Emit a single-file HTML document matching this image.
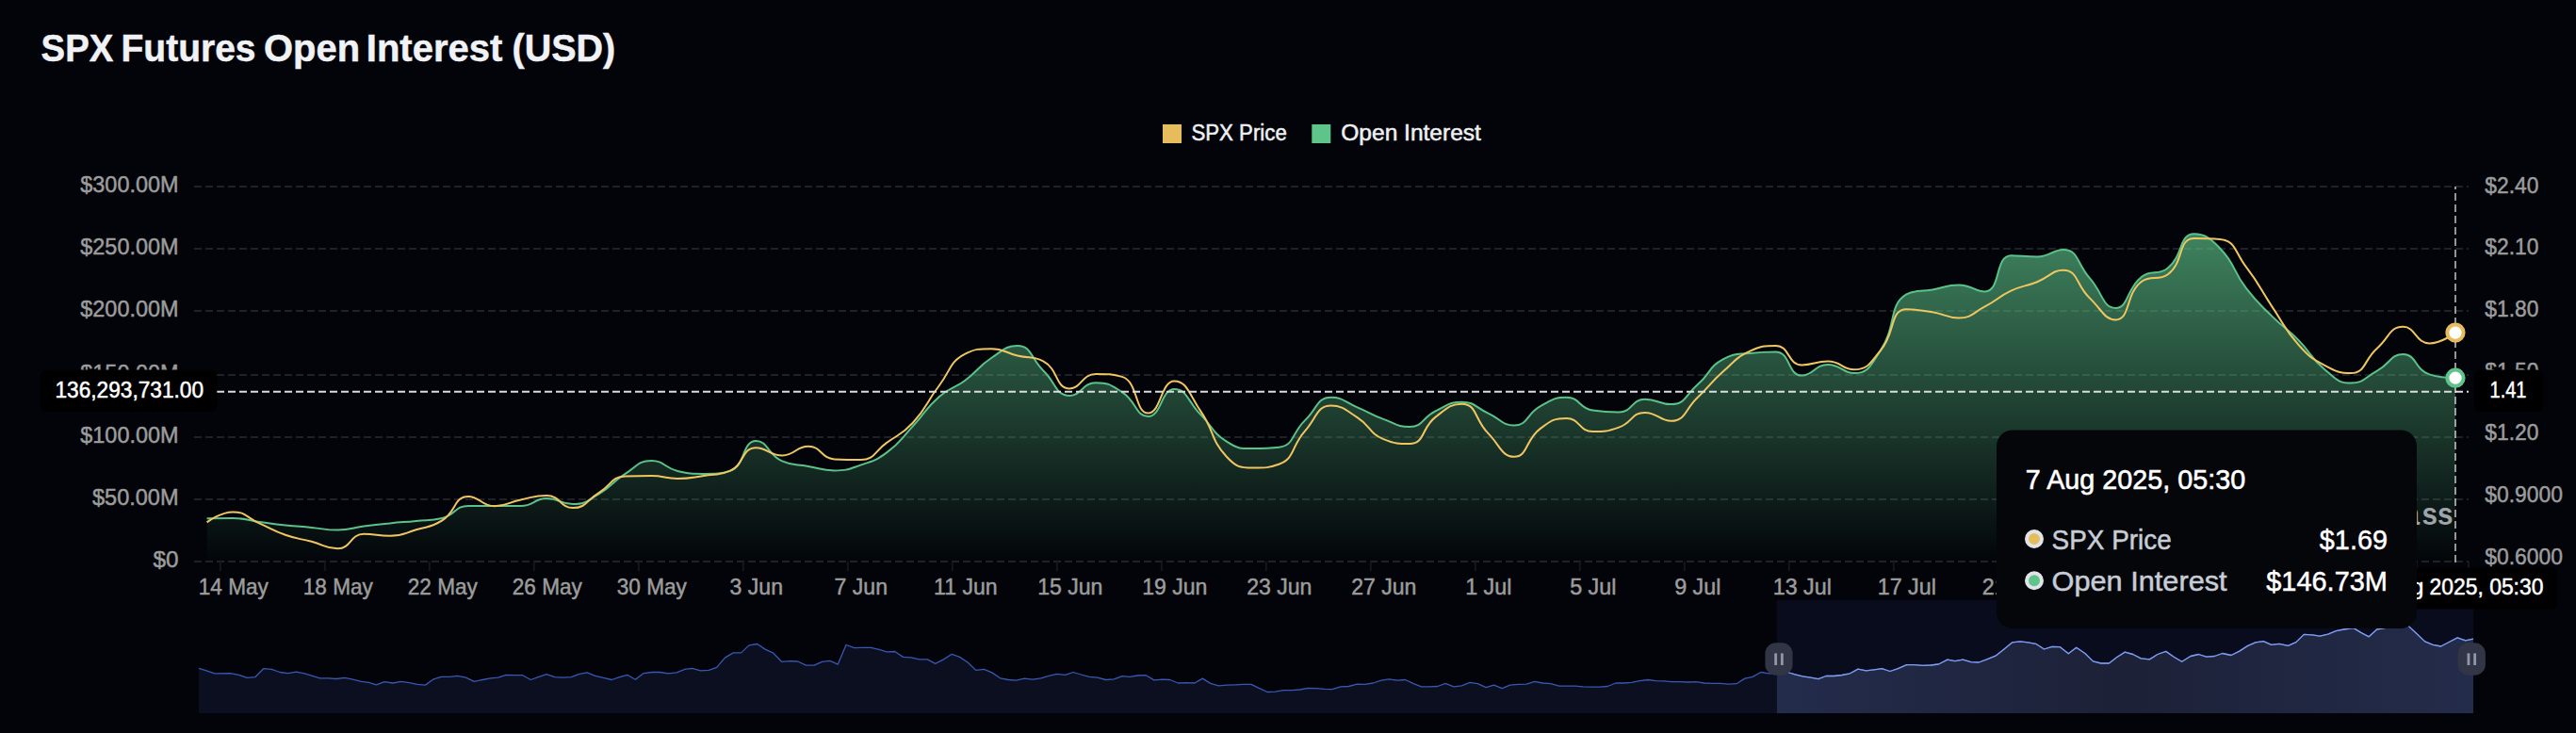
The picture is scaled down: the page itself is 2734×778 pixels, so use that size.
<!DOCTYPE html>
<html lang="en"><head><meta charset="utf-8"><title>SPX Futures Open Interest (USD)</title>
<style>html,body{margin:0;padding:0;background:#020409;}body{width:2734px;height:778px;overflow:hidden;font-family:"Liberation Sans",sans-serif;}svg{display:block}</style>
</head><body>
<svg width="2734" height="778" viewBox="0 0 2734 778" font-family="'Liberation Sans', sans-serif">
<defs>
<linearGradient id="ga" x1="0" y1="0" x2="0" y2="1">
<stop offset="0" stop-color="#5ec48a" stop-opacity="0.66"/>
<stop offset="1" stop-color="#5ec48a" stop-opacity="0.005"/>
</linearGradient>
<linearGradient id="gs" gradientUnits="userSpaceOnUse" x1="1886" y1="0" x2="2625" y2="0">
<stop offset="0" stop-color="#242c4c"/><stop offset="0.5" stop-color="#1c2137"/><stop offset="1" stop-color="#242c4b"/>
</linearGradient>
<clipPath id="selclip"><rect x="1886" y="637" width="739" height="120"/></clipPath>
</defs>
<rect width="2734" height="778" fill="#020409"/>
<text y="64.8" font-size="40.5" font-weight="bold" fill="#f0f2f6" stroke="#f0f2f6" stroke-width="0.5"><tspan x="43.61" textLength="76.67" lengthAdjust="spacingAndGlyphs">SPX</tspan> <tspan x="128.55" textLength="143.00" lengthAdjust="spacingAndGlyphs">Futures</tspan> <tspan x="280.08" textLength="102.00" lengthAdjust="spacingAndGlyphs">Open</tspan> <tspan x="388.81" textLength="144.52" lengthAdjust="spacingAndGlyphs">Interest</tspan> <tspan x="543.50" textLength="109.58" lengthAdjust="spacingAndGlyphs">(USD)</tspan></text>
<rect x="1234" y="132" width="20" height="20" fill="#e6bc5c"/>
<text x="1264.4" y="148.6" font-size="23" fill="#eef0f3" textLength="101.4" lengthAdjust="spacingAndGlyphs" stroke="#eef0f3" stroke-width="0.5">SPX Price</text>
<rect x="1392.3" y="132" width="20" height="20" fill="#5ec48a"/>
<text x="1423.3" y="148.6" font-size="23" fill="#eef0f3" textLength="148.6" lengthAdjust="spacingAndGlyphs" stroke="#eef0f3" stroke-width="0.5">Open Interest</text>
<line x1="206" y1="198.0" x2="2620" y2="198.0" stroke="#1e2126" stroke-width="2" stroke-dasharray="8 4"/>
<line x1="206" y1="264.0" x2="2620" y2="264.0" stroke="#1e2126" stroke-width="2" stroke-dasharray="8 4"/>
<line x1="206" y1="330.0" x2="2620" y2="330.0" stroke="#1e2126" stroke-width="2" stroke-dasharray="8 4"/>
<line x1="206" y1="398.0" x2="2620" y2="398.0" stroke="#1e2126" stroke-width="2" stroke-dasharray="8 4"/>
<line x1="206" y1="464.0" x2="2620" y2="464.0" stroke="#1e2126" stroke-width="2" stroke-dasharray="8 4"/>
<line x1="206" y1="530.0" x2="2620" y2="530.0" stroke="#1e2126" stroke-width="2" stroke-dasharray="8 4"/>
<line x1="206" y1="596.0" x2="2620" y2="596.0" stroke="#1e2126" stroke-width="2" stroke-dasharray="8 4"/>
<text x="85.30000000000001" y="204.4" font-size="24" fill="#9c9c9c" textLength="104.19999999999999" lengthAdjust="spacingAndGlyphs" stroke="#9c9c9c" stroke-width="0.5">$300.00M</text>
<text x="85.30000000000001" y="270.4" font-size="24" fill="#9c9c9c" textLength="104.19999999999999" lengthAdjust="spacingAndGlyphs" stroke="#9c9c9c" stroke-width="0.5">$250.00M</text>
<text x="85.30000000000001" y="336.4" font-size="24" fill="#9c9c9c" textLength="104.19999999999999" lengthAdjust="spacingAndGlyphs" stroke="#9c9c9c" stroke-width="0.5">$200.00M</text>
<text x="85.30000000000001" y="404.4" font-size="24" fill="#9c9c9c" textLength="104.19999999999999" lengthAdjust="spacingAndGlyphs" stroke="#9c9c9c" stroke-width="0.5">$150.00M</text>
<text x="85.30000000000001" y="470.4" font-size="24" fill="#9c9c9c" textLength="104.19999999999999" lengthAdjust="spacingAndGlyphs" stroke="#9c9c9c" stroke-width="0.5">$100.00M</text>
<text x="98.0" y="536.4" font-size="24" fill="#9c9c9c" textLength="91.5" lengthAdjust="spacingAndGlyphs" stroke="#9c9c9c" stroke-width="0.5">$50.00M</text>
<text x="162.5" y="602.4" font-size="24" fill="#9c9c9c" textLength="27.0" lengthAdjust="spacingAndGlyphs" stroke="#9c9c9c" stroke-width="0.5">$0</text>
<text x="2637.3" y="204.5" font-size="24" fill="#9c9c9c" textLength="57" lengthAdjust="spacingAndGlyphs" stroke="#9c9c9c" stroke-width="0.5">$2.40</text>
<text x="2637.3" y="270.2" font-size="24" fill="#9c9c9c" textLength="57" lengthAdjust="spacingAndGlyphs" stroke="#9c9c9c" stroke-width="0.5">$2.10</text>
<text x="2637.3" y="336.0" font-size="24" fill="#9c9c9c" textLength="57" lengthAdjust="spacingAndGlyphs" stroke="#9c9c9c" stroke-width="0.5">$1.80</text>
<text x="2637.3" y="401.7" font-size="24" fill="#9c9c9c" textLength="57" lengthAdjust="spacingAndGlyphs" stroke="#9c9c9c" stroke-width="0.5">$1.50</text>
<text x="2637.3" y="467.4" font-size="24" fill="#9c9c9c" textLength="57" lengthAdjust="spacingAndGlyphs" stroke="#9c9c9c" stroke-width="0.5">$1.20</text>
<text x="2637.3" y="533.2" font-size="24" fill="#9c9c9c" textLength="82.7" lengthAdjust="spacingAndGlyphs" stroke="#9c9c9c" stroke-width="0.5">$0.9000</text>
<text x="2637.3" y="598.9" font-size="24" fill="#9c9c9c" textLength="82.7" lengthAdjust="spacingAndGlyphs" stroke="#9c9c9c" stroke-width="0.5">$0.6000</text>
<line x1="233.8" y1="596" x2="233.8" y2="606" stroke="#15171c" stroke-width="2"/>
<text x="247.8" y="631.2" font-size="24" fill="#9c9c9c" text-anchor="middle" textLength="74.0" lengthAdjust="spacingAndGlyphs" stroke="#9c9c9c" stroke-width="0.5">14 May</text>
<line x1="344.8" y1="596" x2="344.8" y2="606" stroke="#15171c" stroke-width="2"/>
<text x="358.8" y="631.2" font-size="24" fill="#9c9c9c" text-anchor="middle" textLength="74.0" lengthAdjust="spacingAndGlyphs" stroke="#9c9c9c" stroke-width="0.5">18 May</text>
<line x1="455.8" y1="596" x2="455.8" y2="606" stroke="#15171c" stroke-width="2"/>
<text x="469.8" y="631.2" font-size="24" fill="#9c9c9c" text-anchor="middle" textLength="74.0" lengthAdjust="spacingAndGlyphs" stroke="#9c9c9c" stroke-width="0.5">22 May</text>
<line x1="566.8" y1="596" x2="566.8" y2="606" stroke="#15171c" stroke-width="2"/>
<text x="580.8" y="631.2" font-size="24" fill="#9c9c9c" text-anchor="middle" textLength="74.0" lengthAdjust="spacingAndGlyphs" stroke="#9c9c9c" stroke-width="0.5">26 May</text>
<line x1="677.8" y1="596" x2="677.8" y2="606" stroke="#15171c" stroke-width="2"/>
<text x="691.8" y="631.2" font-size="24" fill="#9c9c9c" text-anchor="middle" textLength="74.0" lengthAdjust="spacingAndGlyphs" stroke="#9c9c9c" stroke-width="0.5">30 May</text>
<line x1="788.8" y1="596" x2="788.8" y2="606" stroke="#15171c" stroke-width="2"/>
<text x="802.8" y="631.2" font-size="24" fill="#9c9c9c" text-anchor="middle" textLength="56.4" lengthAdjust="spacingAndGlyphs" stroke="#9c9c9c" stroke-width="0.5">3 Jun</text>
<line x1="899.8" y1="596" x2="899.8" y2="606" stroke="#15171c" stroke-width="2"/>
<text x="913.8" y="631.2" font-size="24" fill="#9c9c9c" text-anchor="middle" textLength="56.4" lengthAdjust="spacingAndGlyphs" stroke="#9c9c9c" stroke-width="0.5">7 Jun</text>
<line x1="1010.8" y1="596" x2="1010.8" y2="606" stroke="#15171c" stroke-width="2"/>
<text x="1024.8" y="631.2" font-size="24" fill="#9c9c9c" text-anchor="middle" textLength="67.5" lengthAdjust="spacingAndGlyphs" stroke="#9c9c9c" stroke-width="0.5">11 Jun</text>
<line x1="1121.8" y1="596" x2="1121.8" y2="606" stroke="#15171c" stroke-width="2"/>
<text x="1135.8" y="631.2" font-size="24" fill="#9c9c9c" text-anchor="middle" textLength="69.2" lengthAdjust="spacingAndGlyphs" stroke="#9c9c9c" stroke-width="0.5">15 Jun</text>
<line x1="1232.8" y1="596" x2="1232.8" y2="606" stroke="#15171c" stroke-width="2"/>
<text x="1246.8" y="631.2" font-size="24" fill="#9c9c9c" text-anchor="middle" textLength="69.2" lengthAdjust="spacingAndGlyphs" stroke="#9c9c9c" stroke-width="0.5">19 Jun</text>
<line x1="1343.8" y1="596" x2="1343.8" y2="606" stroke="#15171c" stroke-width="2"/>
<text x="1357.8" y="631.2" font-size="24" fill="#9c9c9c" text-anchor="middle" textLength="69.2" lengthAdjust="spacingAndGlyphs" stroke="#9c9c9c" stroke-width="0.5">23 Jun</text>
<line x1="1454.8" y1="596" x2="1454.8" y2="606" stroke="#15171c" stroke-width="2"/>
<text x="1468.8" y="631.2" font-size="24" fill="#9c9c9c" text-anchor="middle" textLength="69.2" lengthAdjust="spacingAndGlyphs" stroke="#9c9c9c" stroke-width="0.5">27 Jun</text>
<line x1="1565.8" y1="596" x2="1565.8" y2="606" stroke="#15171c" stroke-width="2"/>
<text x="1579.8" y="631.2" font-size="24" fill="#9c9c9c" text-anchor="middle" textLength="49.3" lengthAdjust="spacingAndGlyphs" stroke="#9c9c9c" stroke-width="0.5">1 Jul</text>
<line x1="1676.8" y1="596" x2="1676.8" y2="606" stroke="#15171c" stroke-width="2"/>
<text x="1690.8" y="631.2" font-size="24" fill="#9c9c9c" text-anchor="middle" textLength="49.3" lengthAdjust="spacingAndGlyphs" stroke="#9c9c9c" stroke-width="0.5">5 Jul</text>
<line x1="1787.8" y1="596" x2="1787.8" y2="606" stroke="#15171c" stroke-width="2"/>
<text x="1801.8" y="631.2" font-size="24" fill="#9c9c9c" text-anchor="middle" textLength="49.3" lengthAdjust="spacingAndGlyphs" stroke="#9c9c9c" stroke-width="0.5">9 Jul</text>
<line x1="1898.8" y1="596" x2="1898.8" y2="606" stroke="#15171c" stroke-width="2"/>
<text x="1912.8" y="631.2" font-size="24" fill="#9c9c9c" text-anchor="middle" textLength="62.2" lengthAdjust="spacingAndGlyphs" stroke="#9c9c9c" stroke-width="0.5">13 Jul</text>
<line x1="2009.8" y1="596" x2="2009.8" y2="606" stroke="#15171c" stroke-width="2"/>
<text x="2023.8" y="631.2" font-size="24" fill="#9c9c9c" text-anchor="middle" textLength="62.2" lengthAdjust="spacingAndGlyphs" stroke="#9c9c9c" stroke-width="0.5">17 Jul</text>
<line x1="2120.8" y1="596" x2="2120.8" y2="606" stroke="#15171c" stroke-width="2"/>
<text x="2134.8" y="631.2" font-size="24" fill="#9c9c9c" text-anchor="middle" textLength="62.2" lengthAdjust="spacingAndGlyphs" stroke="#9c9c9c" stroke-width="0.5">21 Jul</text>
<line x1="2231.8" y1="596" x2="2231.8" y2="606" stroke="#15171c" stroke-width="2"/>
<text x="2245.8" y="631.2" font-size="24" fill="#9c9c9c" text-anchor="middle" textLength="62.2" lengthAdjust="spacingAndGlyphs" stroke="#9c9c9c" stroke-width="0.5">25 Jul</text>
<line x1="2342.8" y1="596" x2="2342.8" y2="606" stroke="#15171c" stroke-width="2"/>
<text x="2356.8" y="631.2" font-size="24" fill="#9c9c9c" text-anchor="middle" textLength="62.2" lengthAdjust="spacingAndGlyphs" stroke="#9c9c9c" stroke-width="0.5">29 Jul</text>
<line x1="2453.8" y1="596" x2="2453.8" y2="606" stroke="#15171c" stroke-width="2"/>
<text x="2467.8" y="631.2" font-size="24" fill="#9c9c9c" text-anchor="middle" textLength="58.3" lengthAdjust="spacingAndGlyphs" stroke="#9c9c9c" stroke-width="0.5">2 Aug</text>
<line x1="2564.8" y1="596" x2="2564.8" y2="606" stroke="#15171c" stroke-width="2"/>
<text x="2578.8" y="631.2" font-size="24" fill="#9c9c9c" text-anchor="middle" textLength="58.3" lengthAdjust="spacingAndGlyphs" stroke="#9c9c9c" stroke-width="0.5">6 Aug</text>
<line x1="2620" y1="596" x2="2620" y2="606" stroke="#15171c" stroke-width="2"/>
<path d="M219.60,550.30C219.60,550.30 233.54,550.10 247.35,550.10C261.29,550.10 261.22,552.07 275.10,553.90C288.97,555.72 288.95,555.90 302.85,557.40C316.70,558.90 316.73,558.60 330.60,559.90C344.48,561.20 344.51,562.60 358.35,562.60C372.26,562.60 372.20,560.40 386.10,558.60C399.95,556.80 399.96,556.83 413.85,555.40C427.71,553.98 427.74,554.27 441.60,552.90C455.49,551.52 456.12,552.90 469.35,549.90C483.87,546.61 482.54,536.90 497.10,536.90C510.29,536.90 510.97,537.00 524.85,537.00C538.72,537.00 539.00,537.00 552.60,537.00C566.75,537.00 566.36,529.10 580.35,529.10C594.11,529.10 594.57,535.10 608.10,535.10C622.32,535.10 623.06,531.52 635.85,524.10C650.81,515.42 648.92,512.21 663.60,502.90C676.67,494.61 677.19,488.90 691.35,488.90C704.94,488.90 704.76,496.69 719.10,499.90C732.51,502.90 732.98,502.90 746.85,502.90C760.73,502.90 763.58,502.90 774.60,499.90C791.33,495.35 787.18,467.90 802.35,467.90C814.93,467.90 814.73,482.58 830.10,489.40C842.48,494.90 843.93,492.39 857.85,494.90C871.68,497.39 871.78,499.40 885.60,499.40C899.53,499.40 900.03,498.16 913.35,493.60C927.78,488.66 928.94,489.42 941.10,480.40C956.69,468.82 955.37,466.77 968.85,452.40C983.12,437.17 981.06,434.84 996.60,421.20C1008.81,410.49 1011.21,413.45 1024.35,403.70C1038.96,392.85 1037.02,389.97 1052.10,380.00C1064.77,371.62 1067.55,367.00 1079.85,367.00C1095.30,367.00 1093.66,380.42 1107.60,393.70C1121.41,406.87 1120.03,419.90 1135.35,419.90C1147.78,419.90 1148.89,406.20 1163.10,406.20C1176.64,406.20 1178.69,408.38 1190.85,416.20C1206.44,426.23 1205.14,441.90 1218.60,441.90C1232.89,441.90 1232.23,412.90 1246.35,412.90C1259.98,412.90 1260.44,426.19 1274.10,439.90C1288.19,454.04 1285.72,458.18 1301.85,468.60C1313.47,476.10 1315.49,476.10 1329.60,476.10C1343.24,476.10 1345.96,476.10 1357.35,474.80C1373.71,472.93 1370.69,459.89 1385.10,446.10C1398.44,433.34 1397.47,421.70 1412.85,421.70C1425.22,421.70 1426.89,426.67 1440.60,432.40C1454.64,438.27 1454.12,439.59 1468.35,444.90C1481.87,449.94 1483.04,453.10 1496.10,453.10C1510.79,453.10 1509.25,443.05 1523.85,436.10C1537.00,429.85 1537.93,426.70 1551.60,426.70C1565.68,426.70 1565.58,432.42 1579.35,438.60C1593.33,444.87 1594.05,451.60 1607.10,451.60C1621.80,451.60 1619.84,439.18 1634.85,431.10C1647.59,424.23 1649.12,421.70 1662.60,421.70C1676.87,421.70 1675.72,433.37 1690.35,435.60C1703.47,437.60 1704.98,437.60 1718.10,437.60C1732.73,437.60 1731.33,423.70 1745.85,423.70C1759.08,423.70 1761.10,429.10 1773.60,429.10C1788.85,429.10 1788.34,419.86 1801.35,408.60C1816.09,395.86 1813.04,389.62 1829.10,381.10C1840.79,374.90 1842.82,376.43 1856.85,374.90C1870.57,373.40 1872.79,373.40 1884.60,373.40C1900.54,373.40 1896.96,398.60 1912.35,398.60C1924.71,398.60 1926.02,386.90 1940.10,386.90C1953.77,386.90 1955.51,396.10 1967.85,396.10C1983.26,396.10 1985.73,387.29 1995.60,372.40C2013.48,345.44 2003.89,323.90 2023.35,312.40C2031.64,307.50 2037.23,309.97 2051.10,307.50C2064.98,305.02 2065.08,302.50 2078.85,302.50C2092.83,302.50 2096.14,309.50 2106.60,309.50C2123.89,309.50 2116.87,271.20 2134.35,271.20C2144.62,271.20 2148.46,272.50 2162.10,272.50C2176.21,272.50 2178.38,265.00 2189.85,265.00C2206.13,265.00 2203.99,279.72 2217.60,294.90C2231.74,310.67 2231.62,326.90 2245.35,326.90C2259.37,326.90 2256.55,306.38 2273.10,293.70C2284.30,285.13 2289.99,293.28 2300.85,284.40C2317.74,270.58 2312.25,248.30 2328.60,248.30C2340.00,248.30 2345.67,252.56 2356.35,263.70C2373.42,281.51 2368.71,286.13 2384.10,306.20C2396.46,322.33 2397.36,321.77 2411.85,336.10C2425.11,349.22 2426.50,347.83 2439.60,361.10C2454.25,375.93 2451.47,379.28 2467.35,392.30C2479.22,402.03 2481.10,406.60 2495.10,406.60C2508.85,406.60 2509.46,400.98 2522.85,393.60C2537.21,385.68 2537.17,376.00 2550.60,376.00C2564.92,376.00 2562.93,392.65 2578.35,397.40C2590.68,401.20 2606.10,401.20 2606.10,401.20L2606.1,596L219.6,596Z" fill="url(#ga)"/>
<path d="M219.60,550.30C219.60,550.30 233.54,550.10 247.35,550.10C261.29,550.10 261.22,552.07 275.10,553.90C288.97,555.72 288.95,555.90 302.85,557.40C316.70,558.90 316.73,558.60 330.60,559.90C344.48,561.20 344.51,562.60 358.35,562.60C372.26,562.60 372.20,560.40 386.10,558.60C399.95,556.80 399.96,556.83 413.85,555.40C427.71,553.98 427.74,554.27 441.60,552.90C455.49,551.52 456.12,552.90 469.35,549.90C483.87,546.61 482.54,536.90 497.10,536.90C510.29,536.90 510.97,537.00 524.85,537.00C538.72,537.00 539.00,537.00 552.60,537.00C566.75,537.00 566.36,529.10 580.35,529.10C594.11,529.10 594.57,535.10 608.10,535.10C622.32,535.10 623.06,531.52 635.85,524.10C650.81,515.42 648.92,512.21 663.60,502.90C676.67,494.61 677.19,488.90 691.35,488.90C704.94,488.90 704.76,496.69 719.10,499.90C732.51,502.90 732.98,502.90 746.85,502.90C760.73,502.90 763.58,502.90 774.60,499.90C791.33,495.35 787.18,467.90 802.35,467.90C814.93,467.90 814.73,482.58 830.10,489.40C842.48,494.90 843.93,492.39 857.85,494.90C871.68,497.39 871.78,499.40 885.60,499.40C899.53,499.40 900.03,498.16 913.35,493.60C927.78,488.66 928.94,489.42 941.10,480.40C956.69,468.82 955.37,466.77 968.85,452.40C983.12,437.17 981.06,434.84 996.60,421.20C1008.81,410.49 1011.21,413.45 1024.35,403.70C1038.96,392.85 1037.02,389.97 1052.10,380.00C1064.77,371.62 1067.55,367.00 1079.85,367.00C1095.30,367.00 1093.66,380.42 1107.60,393.70C1121.41,406.87 1120.03,419.90 1135.35,419.90C1147.78,419.90 1148.89,406.20 1163.10,406.20C1176.64,406.20 1178.69,408.38 1190.85,416.20C1206.44,426.23 1205.14,441.90 1218.60,441.90C1232.89,441.90 1232.23,412.90 1246.35,412.90C1259.98,412.90 1260.44,426.19 1274.10,439.90C1288.19,454.04 1285.72,458.18 1301.85,468.60C1313.47,476.10 1315.49,476.10 1329.60,476.10C1343.24,476.10 1345.96,476.10 1357.35,474.80C1373.71,472.93 1370.69,459.89 1385.10,446.10C1398.44,433.34 1397.47,421.70 1412.85,421.70C1425.22,421.70 1426.89,426.67 1440.60,432.40C1454.64,438.27 1454.12,439.59 1468.35,444.90C1481.87,449.94 1483.04,453.10 1496.10,453.10C1510.79,453.10 1509.25,443.05 1523.85,436.10C1537.00,429.85 1537.93,426.70 1551.60,426.70C1565.68,426.70 1565.58,432.42 1579.35,438.60C1593.33,444.87 1594.05,451.60 1607.10,451.60C1621.80,451.60 1619.84,439.18 1634.85,431.10C1647.59,424.23 1649.12,421.70 1662.60,421.70C1676.87,421.70 1675.72,433.37 1690.35,435.60C1703.47,437.60 1704.98,437.60 1718.10,437.60C1732.73,437.60 1731.33,423.70 1745.85,423.70C1759.08,423.70 1761.10,429.10 1773.60,429.10C1788.85,429.10 1788.34,419.86 1801.35,408.60C1816.09,395.86 1813.04,389.62 1829.10,381.10C1840.79,374.90 1842.82,376.43 1856.85,374.90C1870.57,373.40 1872.79,373.40 1884.60,373.40C1900.54,373.40 1896.96,398.60 1912.35,398.60C1924.71,398.60 1926.02,386.90 1940.10,386.90C1953.77,386.90 1955.51,396.10 1967.85,396.10C1983.26,396.10 1985.73,387.29 1995.60,372.40C2013.48,345.44 2003.89,323.90 2023.35,312.40C2031.64,307.50 2037.23,309.97 2051.10,307.50C2064.98,305.02 2065.08,302.50 2078.85,302.50C2092.83,302.50 2096.14,309.50 2106.60,309.50C2123.89,309.50 2116.87,271.20 2134.35,271.20C2144.62,271.20 2148.46,272.50 2162.10,272.50C2176.21,272.50 2178.38,265.00 2189.85,265.00C2206.13,265.00 2203.99,279.72 2217.60,294.90C2231.74,310.67 2231.62,326.90 2245.35,326.90C2259.37,326.90 2256.55,306.38 2273.10,293.70C2284.30,285.13 2289.99,293.28 2300.85,284.40C2317.74,270.58 2312.25,248.30 2328.60,248.30C2340.00,248.30 2345.67,252.56 2356.35,263.70C2373.42,281.51 2368.71,286.13 2384.10,306.20C2396.46,322.33 2397.36,321.77 2411.85,336.10C2425.11,349.22 2426.50,347.83 2439.60,361.10C2454.25,375.93 2451.47,379.28 2467.35,392.30C2479.22,402.03 2481.10,406.60 2495.10,406.60C2508.85,406.60 2509.46,400.98 2522.85,393.60C2537.21,385.68 2537.17,376.00 2550.60,376.00C2564.92,376.00 2562.93,392.65 2578.35,397.40C2590.68,401.20 2606.10,401.20 2606.10,401.20" fill="none" stroke="#5ac28a" stroke-width="2" stroke-linejoin="round"/>
<path d="M219.60,554.40C219.60,554.40 233.56,543.40 247.35,543.40C261.31,543.40 261.26,549.32 275.10,555.40C289.01,561.52 288.56,562.80 302.85,567.80C316.31,572.50 316.76,571.18 330.60,574.80C344.51,578.43 345.17,582.30 358.35,582.30C372.92,582.30 371.30,566.80 386.10,566.80C399.05,566.80 400.14,568.80 413.85,568.80C427.89,568.80 427.96,566.33 441.60,562.30C455.71,558.13 457.17,560.17 469.35,552.40C484.92,542.47 481.56,526.90 497.10,526.90C509.31,526.90 510.73,537.20 524.85,537.20C538.48,537.20 538.61,533.25 552.60,530.40C566.36,527.60 567.09,525.90 580.35,525.90C594.84,525.90 594.55,539.10 608.10,539.10C622.30,539.10 622.10,531.15 635.85,522.80C649.85,514.30 648.58,505.75 663.60,505.40C676.33,505.10 677.51,505.10 691.35,505.10C705.26,505.10 705.23,507.90 719.10,507.90C732.98,507.90 733.05,506.89 746.85,504.90C760.80,502.89 762.63,504.90 774.60,499.90C790.38,493.31 786.75,475.20 802.35,475.20C814.50,475.20 816.33,483.40 830.10,483.40C844.08,483.40 844.33,473.70 857.85,473.70C872.08,473.70 870.97,486.62 885.60,487.40C898.72,488.10 900.71,488.10 913.35,488.10C928.46,488.10 927.58,479.50 941.10,469.90C955.33,459.80 957.17,461.41 968.85,448.70C984.92,431.21 982.08,428.60 996.60,409.50C1009.83,392.10 1007.50,384.20 1024.35,375.70C1035.25,370.20 1038.32,370.20 1052.10,370.20C1066.07,370.20 1065.91,374.11 1079.85,377.50C1093.66,380.86 1096.06,377.50 1107.60,383.70C1123.81,392.40 1119.90,412.40 1135.35,412.40C1147.65,412.40 1148.32,396.90 1163.10,396.90C1176.07,396.90 1180.60,396.90 1190.85,399.90C1208.35,405.02 1204.18,438.60 1218.60,438.60C1231.93,438.60 1232.17,404.40 1246.35,404.40C1259.92,404.40 1262.19,418.85 1274.10,436.10C1289.94,459.05 1283.81,465.13 1301.85,484.80C1311.56,495.38 1315.21,496.60 1329.60,496.60C1342.96,496.60 1346.70,496.60 1357.35,492.80C1374.45,486.70 1370.16,474.14 1385.10,457.40C1397.91,443.04 1397.34,430.60 1412.85,430.60C1425.09,430.60 1427.90,434.97 1440.60,443.10C1455.65,452.72 1452.78,459.71 1468.35,466.10C1480.53,471.10 1484.61,471.10 1496.10,471.10C1512.36,471.10 1508.22,454.34 1523.85,442.40C1535.97,433.14 1539.79,428.70 1551.60,428.70C1567.54,428.70 1564.69,445.08 1579.35,459.90C1592.44,473.13 1593.85,484.80 1607.10,484.80C1621.60,484.80 1618.83,466.71 1634.85,454.90C1646.58,446.26 1649.03,443.90 1662.60,443.90C1676.78,443.90 1675.76,458.10 1690.35,458.10C1703.51,458.10 1705.10,458.10 1718.10,453.60C1732.85,448.50 1731.35,437.90 1745.85,437.90C1759.10,437.90 1761.38,446.80 1773.60,446.80C1789.13,446.80 1787.94,435.04 1801.35,422.30C1815.69,408.69 1814.36,407.22 1829.10,394.10C1842.11,382.52 1841.54,380.28 1856.85,372.90C1869.29,366.90 1872.07,366.90 1884.60,366.90C1899.82,366.90 1897.03,387.40 1912.35,387.40C1924.78,387.40 1926.49,383.60 1940.10,383.60C1954.24,383.60 1955.09,392.30 1967.85,392.30C1982.84,392.30 1984.62,385.08 1995.60,372.40C2012.37,353.03 2005.27,328.20 2023.35,328.20C2033.02,328.20 2037.35,328.92 2051.10,331.20C2065.10,333.52 2065.40,337.40 2078.85,337.40C2093.15,337.40 2093.20,332.33 2106.60,325.40C2120.95,317.98 2119.79,315.57 2134.35,308.70C2147.54,302.47 2148.48,304.60 2162.10,299.20C2176.23,293.60 2177.93,286.70 2189.85,286.70C2205.68,286.70 2202.97,302.20 2217.60,316.10C2230.72,328.55 2233.59,339.40 2245.35,339.40C2261.34,339.40 2255.58,311.55 2273.10,298.70C2283.33,291.20 2290.35,298.70 2300.85,291.20C2318.10,278.88 2311.13,253.00 2328.60,253.00C2338.88,253.00 2345.10,253.00 2356.35,253.90C2372.85,255.22 2371.74,267.62 2384.10,283.70C2399.49,303.72 2397.70,305.09 2411.85,326.10C2425.45,346.29 2423.50,348.20 2439.60,366.10C2451.25,379.05 2452.12,379.57 2467.35,387.80C2479.87,394.57 2483.15,396.10 2495.10,396.10C2510.90,396.10 2508.54,382.41 2522.85,369.70C2536.29,357.76 2536.10,346.80 2550.60,346.80C2563.85,346.80 2563.83,364.40 2578.35,364.40C2591.58,364.40 2606.10,353.10 2606.10,353.10" fill="none" stroke="#f0c660" stroke-width="2" stroke-linejoin="round"/>
<text y="556.7" font-size="33" font-weight="bold" fill="#9fa4a8"><tspan x="2459" textLength="109" lengthAdjust="spacingAndGlyphs">coingla</tspan><tspan x="2570.6" textLength="33" lengthAdjust="spacingAndGlyphs">ss</tspan></text>
<line x1="206" y1="415.8" x2="2620" y2="415.8" stroke="#dcdcdc" stroke-width="2" stroke-dasharray="8 4"/>
<line x1="2606" y1="597" x2="2606" y2="198" stroke="#fff" stroke-opacity="0.58" stroke-width="2" stroke-dasharray="8 4"/>
<circle cx="2606" cy="353.1" r="8.6" fill="#fff" stroke="#e6bc5c" stroke-width="4"/>
<circle cx="2606" cy="401.2" r="8.6" fill="#fff" stroke="#5ec48a" stroke-width="4"/>
<polygon points="211,757 211,709.3 219.1,711.8 227.9,714.9 244.6,714.6 253.4,716.3 262.1,719.4 270.8,718.7 279.6,709.7 288.3,710.4 297.1,713.5 305.8,714.6 314.5,713.2 323.3,714.9 339.7,719.8 348.4,719.8 357.1,720.5 365.9,719.4 374.6,721.2 383.4,723.3 391.4,724.3 399.4,726.8 408.2,723.6 416.9,725.0 425.6,723.3 434.4,724.7 442.8,726.4 451.5,727.1 460.2,720.8 468.3,718.4 477.0,718.4 485.7,717.4 494.5,719.1 503.2,723.3 511.9,721.5 520.7,719.8 528.7,719.1 537.1,716.3 545.8,716.7 554.6,716.7 563.3,721.5 571.3,718.7 580.1,715.6 588.8,718.7 597.5,719.1 606.3,718.7 615.0,715.3 623.0,713.9 631.8,717.4 640.5,719.4 649.3,721.5 657.6,718.7 665.7,716.3 674.4,721.2 683.1,714.6 691.9,713.5 700.6,713.5 709.4,714.9 718.1,713.9 726.8,710.4 734.9,709.3 743.6,711.8 752.3,711.4 760.7,708.3 769.4,698.1 778.2,692.9 786.6,692.9 795.0,684.9 803.7,683.5 812.4,689.4 820.8,693.2 829.5,702.3 838.3,701.6 846.7,702.0 855.4,706.2 864.1,706.2 872.5,702.3 880.9,701.3 889.3,705.1 898.0,684.5 906.8,687.7 915.5,687.3 924.2,687.3 933.0,689.4 941.0,691.8 949.7,691.5 958.5,697.4 966.9,697.8 975.6,699.9 984.3,699.9 992.7,704.4 1001.5,699.9 1010.2,694.3 1018.6,697.4 1027.0,703.0 1035.7,711.4 1044.4,710.4 1052.8,713.9 1061.6,719.8 1070.3,721.5 1078.2,722.2 1087.3,720.1 1096.0,721.2 1104.7,719.8 1113.1,717.4 1121.8,715.3 1130.6,716.3 1139.0,713.5 1147.4,716.0 1156.1,718.4 1164.8,719.1 1173.6,721.5 1182.3,720.8 1191.0,717.7 1199.1,718.4 1207.4,717.0 1216.2,716.7 1224.9,721.9 1233.7,721.2 1241.7,721.5 1250.4,725.0 1259.2,724.7 1267.9,725.0 1276.3,720.1 1284.7,725.4 1293.4,727.8 1302.1,727.1 1310.9,726.8 1319.3,726.4 1328.0,726.4 1336.7,730.6 1345.1,734.5 1353.5,734.1 1362.2,732.7 1371.0,732.7 1379.4,732.0 1388.4,730.3 1397.2,730.6 1405.9,731.3 1413.9,731.7 1422.7,728.9 1431.4,728.5 1440.2,726.1 1448.5,726.4 1457.3,725.0 1466.0,722.2 1474.4,720.8 1482.8,722.2 1491.5,721.5 1500.3,725.7 1508.6,728.9 1517.0,728.9 1525.8,728.5 1534.1,725.4 1542.9,728.9 1551.3,727.8 1560.0,724.3 1568.4,725.7 1577.1,729.6 1585.5,727.1 1594.2,730.6 1602.6,727.1 1611.4,726.4 1620.1,726.1 1628.8,723.3 1637.2,725.0 1646.0,725.7 1654.7,728.2 1663.1,728.2 1671.8,728.2 1680.2,728.9 1688.9,729.2 1697.7,729.2 1706.1,728.5 1714.8,725.0 1723.2,725.0 1731.6,724.3 1740.3,722.6 1748.7,721.5 1757.4,722.6 1765.8,722.9 1774.5,723.6 1783.3,723.6 1791.7,724.0 1800.0,723.6 1808.8,725.0 1817.5,725.4 1825.9,725.4 1834.6,726.1 1843.0,725.7 1851.8,720.1 1860.1,718.4 1868.9,713.5 1877.6,714.8 1886.1,714.8 1897.3,713.5 1905.1,715.9 1913.3,717.9 1921.8,719.2 1929.9,720.6 1938.0,717.5 1946.5,717.5 1955.0,716.5 1963.5,714.8 1972.0,710.1 1980.5,711.8 1988.9,710.8 1997.4,709.7 2005.9,712.5 2014.4,709.7 2023.6,705.7 2032.0,705.7 2040.5,706.3 2049.0,706.0 2057.5,705.0 2067.0,700.2 2074.8,701.6 2083.3,700.2 2091.8,702.6 2100.2,703.0 2108.7,699.9 2117.9,696.2 2126.4,689.4 2135.5,681.9 2144.0,680.9 2152.5,681.9 2160.6,683.3 2169.5,689.0 2178.0,686.3 2186.4,686.7 2195.3,693.8 2203.7,687.3 2212.9,693.5 2221.4,701.9 2229.9,704.0 2238.4,704.0 2246.8,697.5 2255.3,692.1 2263.8,694.5 2272.3,698.9 2281.4,699.9 2289.9,694.5 2298.8,691.4 2307.2,697.2 2315.7,702.3 2324.9,696.5 2333.4,694.5 2341.8,697.2 2350.3,696.5 2358.8,693.5 2368.0,695.5 2376.8,691.1 2385.3,685.6 2393.8,681.9 2402.2,680.6 2410.7,684.3 2419.2,683.3 2428.4,685.3 2436.9,681.6 2445.3,673.4 2453.8,673.8 2462.3,675.1 2470.8,673.1 2479.3,669.7 2487.8,668.0 2497.9,666.6 2505.7,671.4 2514.2,675.8 2522.7,668.0 2531.2,666.6 2539.7,662.6 2548.2,660.5 2555.6,663.9 2565.1,672.8 2573.6,680.9 2582.1,684.3 2590.6,686.0 2599.7,681.2 2608.2,676.8 2616.7,679.9 2625,678.2 2625,757" fill="#0b0f1f"/>
<rect x="1886" y="637" width="739" height="120" fill="#090c1c"/>
<polygon points="211,757 211,709.3 219.1,711.8 227.9,714.9 244.6,714.6 253.4,716.3 262.1,719.4 270.8,718.7 279.6,709.7 288.3,710.4 297.1,713.5 305.8,714.6 314.5,713.2 323.3,714.9 339.7,719.8 348.4,719.8 357.1,720.5 365.9,719.4 374.6,721.2 383.4,723.3 391.4,724.3 399.4,726.8 408.2,723.6 416.9,725.0 425.6,723.3 434.4,724.7 442.8,726.4 451.5,727.1 460.2,720.8 468.3,718.4 477.0,718.4 485.7,717.4 494.5,719.1 503.2,723.3 511.9,721.5 520.7,719.8 528.7,719.1 537.1,716.3 545.8,716.7 554.6,716.7 563.3,721.5 571.3,718.7 580.1,715.6 588.8,718.7 597.5,719.1 606.3,718.7 615.0,715.3 623.0,713.9 631.8,717.4 640.5,719.4 649.3,721.5 657.6,718.7 665.7,716.3 674.4,721.2 683.1,714.6 691.9,713.5 700.6,713.5 709.4,714.9 718.1,713.9 726.8,710.4 734.9,709.3 743.6,711.8 752.3,711.4 760.7,708.3 769.4,698.1 778.2,692.9 786.6,692.9 795.0,684.9 803.7,683.5 812.4,689.4 820.8,693.2 829.5,702.3 838.3,701.6 846.7,702.0 855.4,706.2 864.1,706.2 872.5,702.3 880.9,701.3 889.3,705.1 898.0,684.5 906.8,687.7 915.5,687.3 924.2,687.3 933.0,689.4 941.0,691.8 949.7,691.5 958.5,697.4 966.9,697.8 975.6,699.9 984.3,699.9 992.7,704.4 1001.5,699.9 1010.2,694.3 1018.6,697.4 1027.0,703.0 1035.7,711.4 1044.4,710.4 1052.8,713.9 1061.6,719.8 1070.3,721.5 1078.2,722.2 1087.3,720.1 1096.0,721.2 1104.7,719.8 1113.1,717.4 1121.8,715.3 1130.6,716.3 1139.0,713.5 1147.4,716.0 1156.1,718.4 1164.8,719.1 1173.6,721.5 1182.3,720.8 1191.0,717.7 1199.1,718.4 1207.4,717.0 1216.2,716.7 1224.9,721.9 1233.7,721.2 1241.7,721.5 1250.4,725.0 1259.2,724.7 1267.9,725.0 1276.3,720.1 1284.7,725.4 1293.4,727.8 1302.1,727.1 1310.9,726.8 1319.3,726.4 1328.0,726.4 1336.7,730.6 1345.1,734.5 1353.5,734.1 1362.2,732.7 1371.0,732.7 1379.4,732.0 1388.4,730.3 1397.2,730.6 1405.9,731.3 1413.9,731.7 1422.7,728.9 1431.4,728.5 1440.2,726.1 1448.5,726.4 1457.3,725.0 1466.0,722.2 1474.4,720.8 1482.8,722.2 1491.5,721.5 1500.3,725.7 1508.6,728.9 1517.0,728.9 1525.8,728.5 1534.1,725.4 1542.9,728.9 1551.3,727.8 1560.0,724.3 1568.4,725.7 1577.1,729.6 1585.5,727.1 1594.2,730.6 1602.6,727.1 1611.4,726.4 1620.1,726.1 1628.8,723.3 1637.2,725.0 1646.0,725.7 1654.7,728.2 1663.1,728.2 1671.8,728.2 1680.2,728.9 1688.9,729.2 1697.7,729.2 1706.1,728.5 1714.8,725.0 1723.2,725.0 1731.6,724.3 1740.3,722.6 1748.7,721.5 1757.4,722.6 1765.8,722.9 1774.5,723.6 1783.3,723.6 1791.7,724.0 1800.0,723.6 1808.8,725.0 1817.5,725.4 1825.9,725.4 1834.6,726.1 1843.0,725.7 1851.8,720.1 1860.1,718.4 1868.9,713.5 1877.6,714.8 1886.1,714.8 1897.3,713.5 1905.1,715.9 1913.3,717.9 1921.8,719.2 1929.9,720.6 1938.0,717.5 1946.5,717.5 1955.0,716.5 1963.5,714.8 1972.0,710.1 1980.5,711.8 1988.9,710.8 1997.4,709.7 2005.9,712.5 2014.4,709.7 2023.6,705.7 2032.0,705.7 2040.5,706.3 2049.0,706.0 2057.5,705.0 2067.0,700.2 2074.8,701.6 2083.3,700.2 2091.8,702.6 2100.2,703.0 2108.7,699.9 2117.9,696.2 2126.4,689.4 2135.5,681.9 2144.0,680.9 2152.5,681.9 2160.6,683.3 2169.5,689.0 2178.0,686.3 2186.4,686.7 2195.3,693.8 2203.7,687.3 2212.9,693.5 2221.4,701.9 2229.9,704.0 2238.4,704.0 2246.8,697.5 2255.3,692.1 2263.8,694.5 2272.3,698.9 2281.4,699.9 2289.9,694.5 2298.8,691.4 2307.2,697.2 2315.7,702.3 2324.9,696.5 2333.4,694.5 2341.8,697.2 2350.3,696.5 2358.8,693.5 2368.0,695.5 2376.8,691.1 2385.3,685.6 2393.8,681.9 2402.2,680.6 2410.7,684.3 2419.2,683.3 2428.4,685.3 2436.9,681.6 2445.3,673.4 2453.8,673.8 2462.3,675.1 2470.8,673.1 2479.3,669.7 2487.8,668.0 2497.9,666.6 2505.7,671.4 2514.2,675.8 2522.7,668.0 2531.2,666.6 2539.7,662.6 2548.2,660.5 2555.6,663.9 2565.1,672.8 2573.6,680.9 2582.1,684.3 2590.6,686.0 2599.7,681.2 2608.2,676.8 2616.7,679.9 2625,678.2 2625,757" fill="url(#gs)" clip-path="url(#selclip)"/>
<polyline points="211,709.3 219.1,711.8 227.9,714.9 244.6,714.6 253.4,716.3 262.1,719.4 270.8,718.7 279.6,709.7 288.3,710.4 297.1,713.5 305.8,714.6 314.5,713.2 323.3,714.9 339.7,719.8 348.4,719.8 357.1,720.5 365.9,719.4 374.6,721.2 383.4,723.3 391.4,724.3 399.4,726.8 408.2,723.6 416.9,725.0 425.6,723.3 434.4,724.7 442.8,726.4 451.5,727.1 460.2,720.8 468.3,718.4 477.0,718.4 485.7,717.4 494.5,719.1 503.2,723.3 511.9,721.5 520.7,719.8 528.7,719.1 537.1,716.3 545.8,716.7 554.6,716.7 563.3,721.5 571.3,718.7 580.1,715.6 588.8,718.7 597.5,719.1 606.3,718.7 615.0,715.3 623.0,713.9 631.8,717.4 640.5,719.4 649.3,721.5 657.6,718.7 665.7,716.3 674.4,721.2 683.1,714.6 691.9,713.5 700.6,713.5 709.4,714.9 718.1,713.9 726.8,710.4 734.9,709.3 743.6,711.8 752.3,711.4 760.7,708.3 769.4,698.1 778.2,692.9 786.6,692.9 795.0,684.9 803.7,683.5 812.4,689.4 820.8,693.2 829.5,702.3 838.3,701.6 846.7,702.0 855.4,706.2 864.1,706.2 872.5,702.3 880.9,701.3 889.3,705.1 898.0,684.5 906.8,687.7 915.5,687.3 924.2,687.3 933.0,689.4 941.0,691.8 949.7,691.5 958.5,697.4 966.9,697.8 975.6,699.9 984.3,699.9 992.7,704.4 1001.5,699.9 1010.2,694.3 1018.6,697.4 1027.0,703.0 1035.7,711.4 1044.4,710.4 1052.8,713.9 1061.6,719.8 1070.3,721.5 1078.2,722.2 1087.3,720.1 1096.0,721.2 1104.7,719.8 1113.1,717.4 1121.8,715.3 1130.6,716.3 1139.0,713.5 1147.4,716.0 1156.1,718.4 1164.8,719.1 1173.6,721.5 1182.3,720.8 1191.0,717.7 1199.1,718.4 1207.4,717.0 1216.2,716.7 1224.9,721.9 1233.7,721.2 1241.7,721.5 1250.4,725.0 1259.2,724.7 1267.9,725.0 1276.3,720.1 1284.7,725.4 1293.4,727.8 1302.1,727.1 1310.9,726.8 1319.3,726.4 1328.0,726.4 1336.7,730.6 1345.1,734.5 1353.5,734.1 1362.2,732.7 1371.0,732.7 1379.4,732.0 1388.4,730.3 1397.2,730.6 1405.9,731.3 1413.9,731.7 1422.7,728.9 1431.4,728.5 1440.2,726.1 1448.5,726.4 1457.3,725.0 1466.0,722.2 1474.4,720.8 1482.8,722.2 1491.5,721.5 1500.3,725.7 1508.6,728.9 1517.0,728.9 1525.8,728.5 1534.1,725.4 1542.9,728.9 1551.3,727.8 1560.0,724.3 1568.4,725.7 1577.1,729.6 1585.5,727.1 1594.2,730.6 1602.6,727.1 1611.4,726.4 1620.1,726.1 1628.8,723.3 1637.2,725.0 1646.0,725.7 1654.7,728.2 1663.1,728.2 1671.8,728.2 1680.2,728.9 1688.9,729.2 1697.7,729.2 1706.1,728.5 1714.8,725.0 1723.2,725.0 1731.6,724.3 1740.3,722.6 1748.7,721.5 1757.4,722.6 1765.8,722.9 1774.5,723.6 1783.3,723.6 1791.7,724.0 1800.0,723.6 1808.8,725.0 1817.5,725.4 1825.9,725.4 1834.6,726.1 1843.0,725.7 1851.8,720.1 1860.1,718.4 1868.9,713.5 1877.6,714.8 1886.1,714.8 1897.3,713.5 1905.1,715.9 1913.3,717.9 1921.8,719.2 1929.9,720.6 1938.0,717.5 1946.5,717.5 1955.0,716.5 1963.5,714.8 1972.0,710.1 1980.5,711.8 1988.9,710.8 1997.4,709.7 2005.9,712.5 2014.4,709.7 2023.6,705.7 2032.0,705.7 2040.5,706.3 2049.0,706.0 2057.5,705.0 2067.0,700.2 2074.8,701.6 2083.3,700.2 2091.8,702.6 2100.2,703.0 2108.7,699.9 2117.9,696.2 2126.4,689.4 2135.5,681.9 2144.0,680.9 2152.5,681.9 2160.6,683.3 2169.5,689.0 2178.0,686.3 2186.4,686.7 2195.3,693.8 2203.7,687.3 2212.9,693.5 2221.4,701.9 2229.9,704.0 2238.4,704.0 2246.8,697.5 2255.3,692.1 2263.8,694.5 2272.3,698.9 2281.4,699.9 2289.9,694.5 2298.8,691.4 2307.2,697.2 2315.7,702.3 2324.9,696.5 2333.4,694.5 2341.8,697.2 2350.3,696.5 2358.8,693.5 2368.0,695.5 2376.8,691.1 2385.3,685.6 2393.8,681.9 2402.2,680.6 2410.7,684.3 2419.2,683.3 2428.4,685.3 2436.9,681.6 2445.3,673.4 2453.8,673.8 2462.3,675.1 2470.8,673.1 2479.3,669.7 2487.8,668.0 2497.9,666.6 2505.7,671.4 2514.2,675.8 2522.7,668.0 2531.2,666.6 2539.7,662.6 2548.2,660.5 2555.6,663.9 2565.1,672.8 2573.6,680.9 2582.1,684.3 2590.6,686.0 2599.7,681.2 2608.2,676.8 2616.7,679.9 2625,678.2" fill="none" stroke="#3858b4" stroke-width="1.3" stroke-linejoin="round"/>
<polyline points="211,709.3 219.1,711.8 227.9,714.9 244.6,714.6 253.4,716.3 262.1,719.4 270.8,718.7 279.6,709.7 288.3,710.4 297.1,713.5 305.8,714.6 314.5,713.2 323.3,714.9 339.7,719.8 348.4,719.8 357.1,720.5 365.9,719.4 374.6,721.2 383.4,723.3 391.4,724.3 399.4,726.8 408.2,723.6 416.9,725.0 425.6,723.3 434.4,724.7 442.8,726.4 451.5,727.1 460.2,720.8 468.3,718.4 477.0,718.4 485.7,717.4 494.5,719.1 503.2,723.3 511.9,721.5 520.7,719.8 528.7,719.1 537.1,716.3 545.8,716.7 554.6,716.7 563.3,721.5 571.3,718.7 580.1,715.6 588.8,718.7 597.5,719.1 606.3,718.7 615.0,715.3 623.0,713.9 631.8,717.4 640.5,719.4 649.3,721.5 657.6,718.7 665.7,716.3 674.4,721.2 683.1,714.6 691.9,713.5 700.6,713.5 709.4,714.9 718.1,713.9 726.8,710.4 734.9,709.3 743.6,711.8 752.3,711.4 760.7,708.3 769.4,698.1 778.2,692.9 786.6,692.9 795.0,684.9 803.7,683.5 812.4,689.4 820.8,693.2 829.5,702.3 838.3,701.6 846.7,702.0 855.4,706.2 864.1,706.2 872.5,702.3 880.9,701.3 889.3,705.1 898.0,684.5 906.8,687.7 915.5,687.3 924.2,687.3 933.0,689.4 941.0,691.8 949.7,691.5 958.5,697.4 966.9,697.8 975.6,699.9 984.3,699.9 992.7,704.4 1001.5,699.9 1010.2,694.3 1018.6,697.4 1027.0,703.0 1035.7,711.4 1044.4,710.4 1052.8,713.9 1061.6,719.8 1070.3,721.5 1078.2,722.2 1087.3,720.1 1096.0,721.2 1104.7,719.8 1113.1,717.4 1121.8,715.3 1130.6,716.3 1139.0,713.5 1147.4,716.0 1156.1,718.4 1164.8,719.1 1173.6,721.5 1182.3,720.8 1191.0,717.7 1199.1,718.4 1207.4,717.0 1216.2,716.7 1224.9,721.9 1233.7,721.2 1241.7,721.5 1250.4,725.0 1259.2,724.7 1267.9,725.0 1276.3,720.1 1284.7,725.4 1293.4,727.8 1302.1,727.1 1310.9,726.8 1319.3,726.4 1328.0,726.4 1336.7,730.6 1345.1,734.5 1353.5,734.1 1362.2,732.7 1371.0,732.7 1379.4,732.0 1388.4,730.3 1397.2,730.6 1405.9,731.3 1413.9,731.7 1422.7,728.9 1431.4,728.5 1440.2,726.1 1448.5,726.4 1457.3,725.0 1466.0,722.2 1474.4,720.8 1482.8,722.2 1491.5,721.5 1500.3,725.7 1508.6,728.9 1517.0,728.9 1525.8,728.5 1534.1,725.4 1542.9,728.9 1551.3,727.8 1560.0,724.3 1568.4,725.7 1577.1,729.6 1585.5,727.1 1594.2,730.6 1602.6,727.1 1611.4,726.4 1620.1,726.1 1628.8,723.3 1637.2,725.0 1646.0,725.7 1654.7,728.2 1663.1,728.2 1671.8,728.2 1680.2,728.9 1688.9,729.2 1697.7,729.2 1706.1,728.5 1714.8,725.0 1723.2,725.0 1731.6,724.3 1740.3,722.6 1748.7,721.5 1757.4,722.6 1765.8,722.9 1774.5,723.6 1783.3,723.6 1791.7,724.0 1800.0,723.6 1808.8,725.0 1817.5,725.4 1825.9,725.4 1834.6,726.1 1843.0,725.7 1851.8,720.1 1860.1,718.4 1868.9,713.5 1877.6,714.8 1886.1,714.8 1897.3,713.5 1905.1,715.9 1913.3,717.9 1921.8,719.2 1929.9,720.6 1938.0,717.5 1946.5,717.5 1955.0,716.5 1963.5,714.8 1972.0,710.1 1980.5,711.8 1988.9,710.8 1997.4,709.7 2005.9,712.5 2014.4,709.7 2023.6,705.7 2032.0,705.7 2040.5,706.3 2049.0,706.0 2057.5,705.0 2067.0,700.2 2074.8,701.6 2083.3,700.2 2091.8,702.6 2100.2,703.0 2108.7,699.9 2117.9,696.2 2126.4,689.4 2135.5,681.9 2144.0,680.9 2152.5,681.9 2160.6,683.3 2169.5,689.0 2178.0,686.3 2186.4,686.7 2195.3,693.8 2203.7,687.3 2212.9,693.5 2221.4,701.9 2229.9,704.0 2238.4,704.0 2246.8,697.5 2255.3,692.1 2263.8,694.5 2272.3,698.9 2281.4,699.9 2289.9,694.5 2298.8,691.4 2307.2,697.2 2315.7,702.3 2324.9,696.5 2333.4,694.5 2341.8,697.2 2350.3,696.5 2358.8,693.5 2368.0,695.5 2376.8,691.1 2385.3,685.6 2393.8,681.9 2402.2,680.6 2410.7,684.3 2419.2,683.3 2428.4,685.3 2436.9,681.6 2445.3,673.4 2453.8,673.8 2462.3,675.1 2470.8,673.1 2479.3,669.7 2487.8,668.0 2497.9,666.6 2505.7,671.4 2514.2,675.8 2522.7,668.0 2531.2,666.6 2539.7,662.6 2548.2,660.5 2555.6,663.9 2565.1,672.8 2573.6,680.9 2582.1,684.3 2590.6,686.0 2599.7,681.2 2608.2,676.8 2616.7,679.9 2625,678.2" fill="none" stroke="#819ce8" stroke-width="1.3" stroke-linejoin="round" clip-path="url(#selclip)"/>
<rect x="1873.4" y="682.3" width="29.2" height="34.4" rx="11.5" fill="#323545"/>
<rect x="1883.25" y="693.4" width="2.8" height="12.6" fill="#9296ab"/><rect x="1889.95" y="693.4" width="2.8" height="12.6" fill="#9296ab"/>
<rect x="2608.7000000000003" y="682.3" width="29.2" height="34.4" rx="11.5" fill="#323545"/>
<rect x="2618.55" y="693.4" width="2.8" height="12.6" fill="#9296ab"/><rect x="2625.25" y="693.4" width="2.8" height="12.6" fill="#9296ab"/>
<rect x="43" y="392.5" width="187.3" height="44.6" rx="7" fill="#000"/>
<text x="58.5" y="421.7" font-size="23.2" fill="#fff" textLength="157.5" lengthAdjust="spacingAndGlyphs" stroke="#fff" stroke-width="0.5">136,293,731.00</text>
<rect x="2626" y="392.5" width="73.2" height="44.6" rx="7" fill="#000"/>
<text x="2642.6" y="421.7" font-size="23.2" fill="#fff" textLength="38.8" lengthAdjust="spacingAndGlyphs" stroke="#fff" stroke-width="0.5">1.41</text>
<rect x="2498" y="602.5" width="216" height="44" rx="7" fill="#000"/>
<text x="2699.4" y="630.9" font-size="23.2" fill="#fff" text-anchor="end" textLength="185.6" lengthAdjust="spacingAndGlyphs" stroke="#fff" stroke-width="0.5">7 Aug 2025, 05:30</text>
<rect x="2119" y="456.5" width="446" height="210.5" rx="17" fill="#05060a"/>
<text x="2149.8" y="519.0" font-size="30" fill="#fff" textLength="233.4" lengthAdjust="spacingAndGlyphs" stroke="#fff" stroke-width="0.6">7 Aug 2025, 05:30</text>
<circle cx="2159" cy="572" r="8" fill="#e6bc5c" stroke="#e0e3e8" stroke-width="4"/>
<text x="2177.6" y="582.8" font-size="30" fill="#c7cdd6" textLength="127.1" lengthAdjust="spacingAndGlyphs" stroke="#c7cdd6" stroke-width="0.5">SPX Price</text>
<text x="2534" y="582.8" font-size="30" fill="#fff" text-anchor="end" textLength="72.2" lengthAdjust="spacingAndGlyphs" stroke="#fff" stroke-width="0.5">$1.69</text>
<circle cx="2159" cy="616.2" r="8" fill="#5ec48a" stroke="#e0e3e8" stroke-width="4"/>
<text x="2177.6" y="627.0" font-size="30" fill="#c7cdd6" textLength="186" lengthAdjust="spacingAndGlyphs" stroke="#c7cdd6" stroke-width="0.5">Open Interest</text>
<text x="2534" y="627.0" font-size="30" fill="#fff" text-anchor="end" textLength="128.8" lengthAdjust="spacingAndGlyphs" stroke="#fff" stroke-width="0.5">$146.73M</text>
</svg>
</body></html>
